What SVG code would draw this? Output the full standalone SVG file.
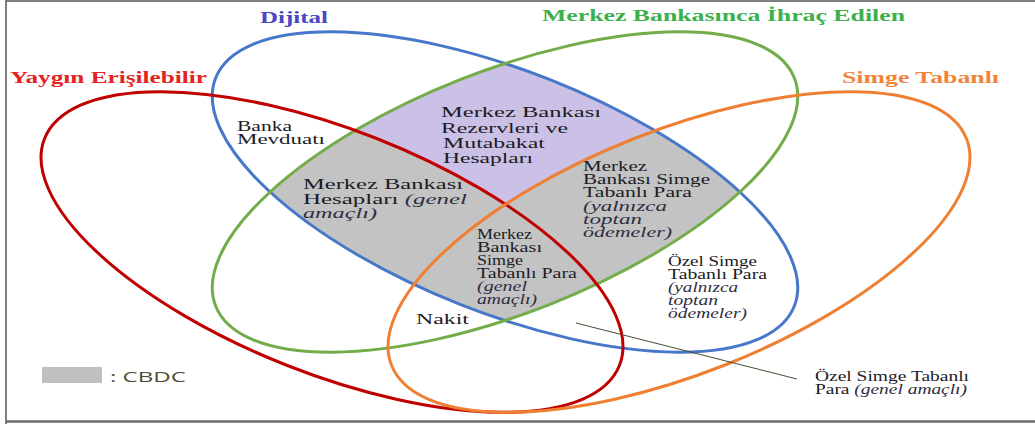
<svg xmlns="http://www.w3.org/2000/svg" width="1035" height="424" viewBox="0 0 1035 424">
<style>
.t{font-family:"Liberation Serif","Times New Roman",serif;font-size:14px;fill:#1c1c24}
.i{font-style:italic;fill:#2e2e40}
.h{font-family:"Liberation Serif","Times New Roman",serif;font-weight:bold;font-size:17px}
.e{fill:none;stroke-width:3}
</style>
<defs>
<clipPath id="cb"><ellipse cx="505" cy="192" rx="311" ry="121" transform="rotate(21.5 505 192)"/></clipPath>
<clipPath id="cg"><ellipse cx="505" cy="192" rx="311" ry="121" transform="rotate(-21.5 505 192)"/></clipPath>
</defs>
<rect width="1035" height="424" fill="#fff"/>
<g id="frame" fill="none">
<path d="M6 424V1H1035" stroke="#555" stroke-width="1.5"/>
<path d="M6 421.5H1035" stroke="#6a6a6a" stroke-width="2.5"/>
</g>
<g id="regions">
<g clip-path="url(#cg)"><g clip-path="url(#cb)">
<rect width="1035" height="424" fill="#cbc1e6"/>
<ellipse cx="332" cy="252" rx="309" ry="122" transform="rotate(21.5 332 252)" fill="#c3c3c3"/>
<ellipse cx="679" cy="252" rx="309" ry="122" transform="rotate(-21.5 679 252)" fill="#c3c3c3"/>
</g></g>
</g>
<g id="dijital">
<ellipse class="e" cx="505" cy="192" rx="311" ry="121" transform="rotate(21.5 505 192)" stroke="#4777c9"/>
<text class="h" x="260" y="23" fill="#4a46c8" textLength="68" lengthAdjust="spacingAndGlyphs">Dijital</text>
</g>
<g id="merkez-bankasinca">
<ellipse class="e" cx="505" cy="192" rx="311" ry="121" transform="rotate(-21.5 505 192)" stroke="#72ad4a"/>
<text class="h" x="542" y="21" fill="#3cb04c" textLength="363" lengthAdjust="spacingAndGlyphs">Merkez Bankasınca İhraç Edilen</text>
</g>
<g id="yaygin">
<ellipse class="e" cx="332" cy="252" rx="309" ry="122" transform="rotate(21.5 332 252)" stroke="#c00000"/>
<text class="h" x="10" y="83" fill="#e42222" textLength="197" lengthAdjust="spacingAndGlyphs">Yaygın Erişilebilir</text>
</g>
<g id="simge">
<ellipse class="e" cx="679" cy="252" rx="309" ry="122" transform="rotate(-21.5 679 252)" stroke="#ee7f33"/>
<text class="h" x="842" y="83" fill="#f2843a" textLength="157" lengthAdjust="spacingAndGlyphs">Simge Tabanlı</text>
</g>
<g id="banka-mevduati">
<text class="t" x="237" y="131" font-size="13" textLength="55" lengthAdjust="spacingAndGlyphs">Banka</text>
<text class="t" x="237" y="144" font-size="13" textLength="88" lengthAdjust="spacingAndGlyphs">Mevduatı</text>
</g>
<g id="rezervler">
<text class="t" x="441" y="117" font-size="15" textLength="160" lengthAdjust="spacingAndGlyphs">Merkez Bankası</text>
<text class="t" x="441" y="133" font-size="15" textLength="127" lengthAdjust="spacingAndGlyphs">Rezervleri ve</text>
<text class="t" x="443" y="148" font-size="15" textLength="102" lengthAdjust="spacingAndGlyphs">Mutabakat</text>
<text class="t" x="443" y="163" font-size="15" textLength="90" lengthAdjust="spacingAndGlyphs">Hesapları</text>
</g>
<g id="mb-hesaplari">
<text class="t" x="303" y="189" font-size="15" textLength="160" lengthAdjust="spacingAndGlyphs">Merkez Bankası</text>
<text class="t" x="303" y="204" font-size="15" textLength="164" lengthAdjust="spacingAndGlyphs">Hesapları <tspan class="i">(genel</tspan></text>
<text class="t i" x="303" y="218" font-size="15" textLength="74" lengthAdjust="spacingAndGlyphs">amaçlı)</text>
</g>
<g id="mb-simge-toptan">
<text class="t" x="583" y="171" textLength="64" lengthAdjust="spacingAndGlyphs">Merkez</text>
<text class="t" x="583" y="184" textLength="127" lengthAdjust="spacingAndGlyphs">Bankası Simge</text>
<text class="t" x="583" y="197" textLength="109" lengthAdjust="spacingAndGlyphs">Tabanlı Para</text>
<text class="t i" x="583" y="211" textLength="84" lengthAdjust="spacingAndGlyphs">(yalnızca</text>
<text class="t i" x="583" y="224" textLength="59" lengthAdjust="spacingAndGlyphs">toptan</text>
<text class="t i" x="583" y="237" textLength="89" lengthAdjust="spacingAndGlyphs">ödemeler)</text>
</g>
<g id="mb-simge-genel">
<text class="t" x="477" y="239" font-size="13" textLength="55" lengthAdjust="spacingAndGlyphs">Merkez</text>
<text class="t" x="477" y="252" font-size="13" textLength="65" lengthAdjust="spacingAndGlyphs">Bankası</text>
<text class="t" x="477" y="265" font-size="13" textLength="46" lengthAdjust="spacingAndGlyphs">Simge</text>
<text class="t" x="477" y="278" font-size="13" textLength="100" lengthAdjust="spacingAndGlyphs">Tabanlı Para</text>
<text class="t i" x="477" y="291" font-size="13" textLength="50" lengthAdjust="spacingAndGlyphs">(genel</text>
<text class="t i" x="477" y="304" font-size="13" textLength="60" lengthAdjust="spacingAndGlyphs">amaçlı)</text>
</g>
<g id="nakit">
<text class="t" x="416" y="324" font-size="15" textLength="53" lengthAdjust="spacingAndGlyphs">Nakit</text>
</g>
<g id="ozel-toptan">
<text class="t" x="668" y="266" font-size="13" textLength="89" lengthAdjust="spacingAndGlyphs">Özel Simge</text>
<text class="t" x="668" y="279" font-size="13" textLength="99" lengthAdjust="spacingAndGlyphs">Tabanlı Para</text>
<text class="t i" x="668" y="292" font-size="13" textLength="70" lengthAdjust="spacingAndGlyphs">(yalnızca</text>
<text class="t i" x="668" y="305" font-size="13" textLength="50" lengthAdjust="spacingAndGlyphs">toptan</text>
<text class="t i" x="668" y="318" font-size="13" textLength="79" lengthAdjust="spacingAndGlyphs">ödemeler)</text>
</g>
<g id="ozel-genel">
<text class="t" x="815" y="381" font-size="13.5" textLength="154" lengthAdjust="spacingAndGlyphs">Özel Simge Tabanlı</text>
<text class="t" x="815" y="394" font-size="13.5" textLength="152" lengthAdjust="spacingAndGlyphs">Para <tspan class="i">(genel amaçlı)</tspan></text>
</g>
<g id="legend">
<rect x="42" y="367" width="60" height="16" fill="#c0c0c0"/>
<text x="110" y="382" font-family="'Open Sans','Liberation Sans',sans-serif" font-size="15" fill="#4e4e32" textLength="76" lengthAdjust="spacingAndGlyphs">: CBDC</text>
</g>
<g id="connectors">
<line x1="576" y1="323" x2="797" y2="379" stroke="#4a4a34" stroke-width="1"/>
</g>
</svg>
